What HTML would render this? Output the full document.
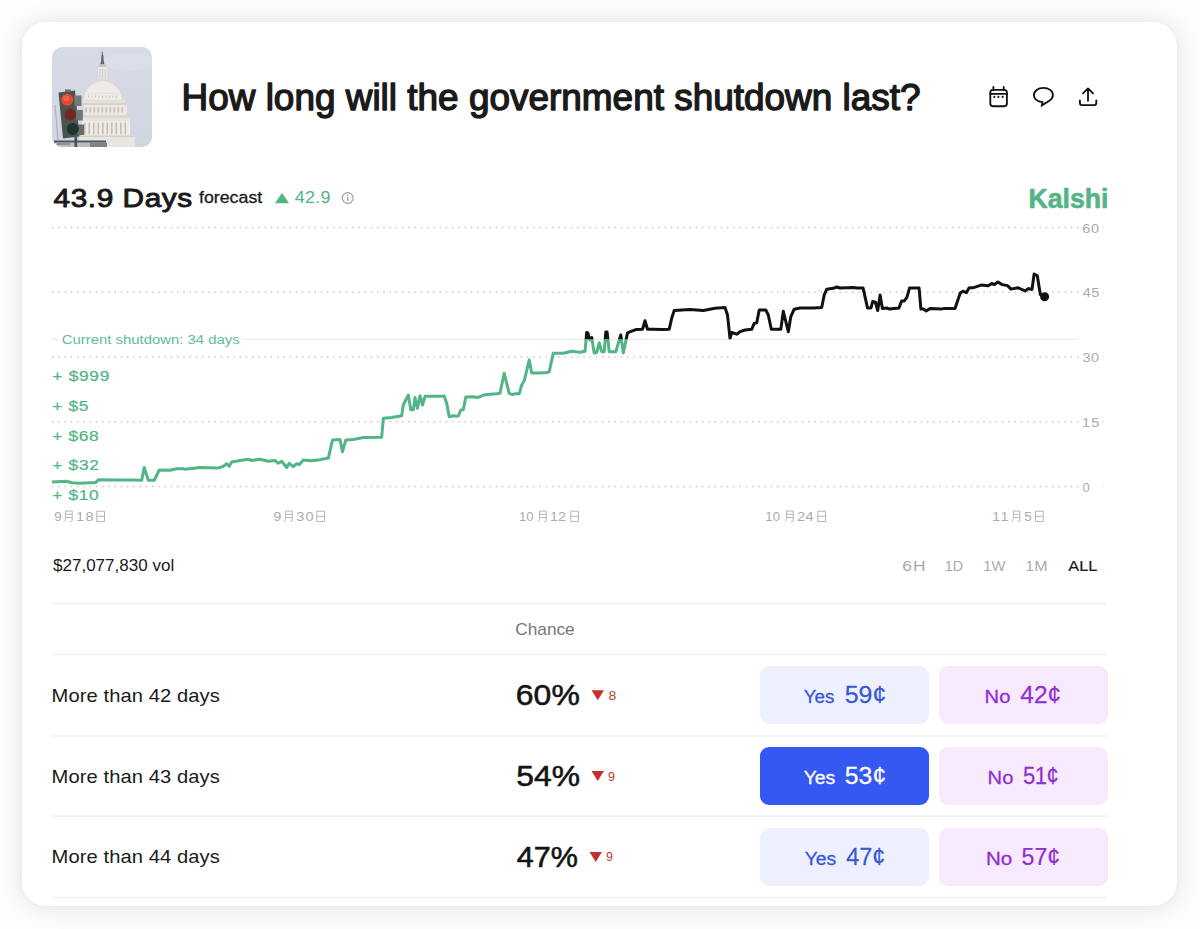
<!DOCTYPE html>
<html><head><meta charset="utf-8">
<style>
html,body{margin:0;padding:0;width:1200px;height:929px;overflow:hidden;background:#fdfdfd;font-family:"Liberation Sans",sans-serif;}
#card{position:absolute;left:22px;top:22px;width:1155px;height:884px;background:#fff;border-radius:24px;box-shadow:0 0 4px rgba(0,0,0,0.025),0 1px 24px rgba(0,0,0,0.116);}
#ov{position:absolute;left:0;top:0;}
.btn{position:absolute;border-radius:9px;}
</style></head><body>
<div id="card"></div>
<div class="btn" style="left:760px;top:666px;width:169px;height:58px;background:#eef1fd"></div>
<div class="btn" style="left:939px;top:666px;width:169px;height:58px;background:#f8eafd"></div>
<div class="btn" style="left:760px;top:747px;width:169px;height:58px;background:#3558f0"></div>
<div class="btn" style="left:939px;top:747px;width:169px;height:58px;background:#f8eafd"></div>
<div class="btn" style="left:760px;top:828px;width:169px;height:58px;background:#eef1fd"></div>
<div class="btn" style="left:939px;top:828px;width:169px;height:58px;background:#f8eafd"></div>
<svg id="ov" width="1200" height="929" viewBox="0 0 1200 929" font-family="Liberation Sans, sans-serif">
<defs>
<clipPath id="imgclip"><rect x="52" y="47" width="100" height="100" rx="10"/></clipPath>
<clipPath id="above"><rect x="0" y="0" width="1200" height="339.3"/></clipPath>
<clipPath id="below"><rect x="0" y="339.3" width="1200" height="300"/></clipPath>
<linearGradient id="sky" x1="0" y1="0" x2="0" y2="1"><stop offset="0" stop-color="#d8dbe5"/><stop offset="1" stop-color="#d0d5e1"/></linearGradient>
</defs>
<!-- IMAGE -->
<g clip-path="url(#imgclip)" id="img">
<rect x="52" y="47" width="100" height="100" fill="url(#sky)"/>
<ellipse cx="130" cy="62" rx="30" ry="8" fill="#dde0ea" opacity="0.7"/>
<!-- statue & lantern -->
<path d="M101.8 51.5h0.8l0.4 3.5 0.5 1 0.2 5 0.8 3.5h-4.2l0.8-3.5 0.2-5 0.5-1z" fill="#626772"/>
<rect x="98.8" y="64.5" width="7.6" height="3" fill="#c9c6c2"/>
<rect x="98.3" y="67" width="8.6" height="12" fill="#ece9e4"/>
<g stroke="#b9b5b0" stroke-width="0.6"><line x1="100" y1="69" x2="100" y2="78"/><line x1="102.6" y1="69" x2="102.6" y2="78"/><line x1="105.2" y1="69" x2="105.2" y2="78"/></g>
<rect x="96" y="78.5" width="13.2" height="2.5" fill="#ddd9d3"/>
<!-- dome -->
<path d="M84 100C84 90 91 82 102.6 81 114 82 121.5 90 122 100z" fill="#efece8"/>
<path d="M88 94 Q102.6 92 117.5 94" stroke="#dcd8d2" stroke-width="0.6" fill="none"/>
<g fill="#c9c5be"><rect x="88" y="95.5" width="1" height="2"/><rect x="91.5" y="95.5" width="1" height="2"/><rect x="95" y="95.5" width="1" height="2"/><rect x="98.5" y="95.5" width="1" height="2"/><rect x="102" y="95.5" width="1" height="2"/><rect x="105.5" y="95.5" width="1" height="2"/><rect x="109" y="95.5" width="1" height="2"/><rect x="112.5" y="95.5" width="1" height="2"/><rect x="116" y="95.5" width="1" height="2"/></g>
<rect x="82.5" y="99.5" width="42.5" height="4" fill="#e4e0da"/>
<rect x="83" y="103.3" width="42.5" height="2" fill="#d6d2cb"/>
<rect x="84" y="105" width="43" height="10" fill="#ebe8e3"/>
<g fill="#bdb8b0"><rect x="85.5" y="107.5" width="1.3" height="5"/><rect x="89.5" y="107.5" width="1.3" height="5"/><rect x="93.5" y="107.5" width="1.3" height="5"/><rect x="97.5" y="107.5" width="1.3" height="5"/><rect x="101.5" y="107.5" width="1.3" height="5"/><rect x="105.5" y="107.5" width="1.3" height="5"/><rect x="109.5" y="107.5" width="1.3" height="5"/><rect x="113.5" y="107.5" width="1.3" height="5"/><rect x="117.5" y="107.5" width="1.3" height="5"/><rect x="121.5" y="107.5" width="1.3" height="5"/></g>
<rect x="82" y="115" width="47" height="3" fill="#dcd8d1"/>
<rect x="81.5" y="118" width="48.5" height="3" fill="#e8e5e0"/>
<rect x="82" y="121" width="48" height="15" fill="#efece7"/>
<g fill="#c3beb6"><rect x="84" y="122.5" width="1.6" height="12"/><rect x="88.5" y="122.5" width="1.6" height="12"/><rect x="93" y="122.5" width="1.6" height="12"/><rect x="97.5" y="122.5" width="1.6" height="12"/><rect x="102" y="122.5" width="1.6" height="12"/><rect x="106.5" y="122.5" width="1.6" height="12"/><rect x="111" y="122.5" width="1.6" height="12"/><rect x="115.5" y="122.5" width="1.6" height="12"/><rect x="120" y="122.5" width="1.6" height="12"/><rect x="124.5" y="122.5" width="1.6" height="12"/></g>
<rect x="79" y="135.5" width="56" height="11.5" fill="#e9e6e1"/>
<rect x="79" y="135.5" width="56" height="1.5" fill="#d3cfc8"/>
<!-- wires -->
<path d="M55 105 L58 140" stroke="#7a8088" stroke-width="0.5" fill="none"/>
<!-- traffic light -->
<path d="M58.5 92.5L75 90.5 79.5 136.5 63 138.5z" fill="#4c5351"/>
<rect x="65" y="89.5" width="6" height="2.5" fill="#6a706e"/>
<path d="M74 95.5h7.5v10.5h-6.8z" fill="#737978"/>
<path d="M75.6 110h7.2v10.5h-6.5z" fill="#707675"/>
<path d="M77 124.5h7v10.5h-6.3z" fill="#676d6c"/>
<circle cx="67.2" cy="99.8" r="6" fill="#e8492c"/>
<circle cx="66.3" cy="98.5" r="3" fill="#f2684a" opacity="0.8"/>
<circle cx="70.2" cy="114.4" r="5.8" fill="#6e2a20"/>
<circle cx="72.8" cy="129" r="6" fill="#1e3530"/>
<!-- bottom structure -->
<rect x="54" y="140.5" width="52" height="2.2" fill="#4f565c"/>
<rect x="56" y="142.7" width="50" height="4.3" fill="#b9bdc4"/>
<rect x="57" y="143" width="13" height="2" fill="#8c9298"/>
<rect x="74.5" y="137" width="2.6" height="10" fill="#474d50"/>
<rect x="90" y="142.5" width="17" height="4.5" fill="#7d838a"/>
</g>
<!-- ICONS -->
<g fill="none" stroke="#111" stroke-width="1.85" stroke-linecap="round" stroke-linejoin="round">
<rect x="990.3" y="89.9" width="16.6" height="16.3" rx="2.6"/>
<line x1="990.3" y1="93.9" x2="1006.9" y2="93.9"/>
<line x1="993.4" y1="86.9" x2="993.4" y2="89.9"/>
<line x1="1003.7" y1="86.9" x2="1003.7" y2="89.9"/>
<path d="M1042.4 102.1C1037.2 101.7 1033.9 98.9 1033.9 95.1 1033.9 90.8 1038.1 87.9 1043.4 87.9 1048.8 87.9 1052.9 90.8 1052.9 95 1052.9 97.6 1051.4 99.4 1049.4 100.7L1041.9 105.3Z" stroke-linejoin="miter"/>
<path d="M1088 100.7V88.6M1083 93.4l5-5 5 5M1079.9 100.5v2.6q0 2 2 2h12.4q2 0 2-2v-2.6"/>
</g>
<g fill="#111"><ellipse cx="994.3" cy="96.9" rx="1.05" ry="1.15"/><ellipse cx="998.4" cy="96.9" rx="1.05" ry="1.15"/><ellipse cx="1002.6" cy="96.9" rx="1.05" ry="1.15"/></g>
<!-- FORECAST ROW extras -->
<path d="M275 203.3 L282 192.7 L289 203.3Z" fill="#52b586"/>
<circle cx="347.7" cy="198" r="5.4" fill="none" stroke="#9a9a9a" stroke-width="1.1"/>
<rect x="347" y="197" width="1.3" height="4" fill="#9a9a9a"/><circle cx="347.65" cy="195.2" r="0.8" fill="#9a9a9a"/>
<!-- GRID -->
<g stroke="#c6c6c6" stroke-width="1.45" stroke-dasharray="1.45 4.8" fill="none">
<line x1="52" y1="227.5" x2="1107" y2="227.5"/>
<line x1="52" y1="292.2" x2="1107" y2="292.2"/>
<line x1="52" y1="357" x2="1107" y2="357"/>
<line x1="52" y1="421.7" x2="1107" y2="421.7"/>
<line x1="52" y1="486.5" x2="1107" y2="486.5"/>
</g>
<g fill="#fff"><rect x="1079" y="220" width="24" height="15"/><rect x="1079" y="285" width="24" height="15"/><rect x="1079" y="350" width="24" height="15"/><rect x="1079" y="414" width="24" height="15"/><rect x="1079" y="479" width="24" height="15"/></g>
<line x1="52" y1="339.3" x2="1078" y2="339.3" stroke="#dfe6e3" stroke-width="1"/>
<rect x="57.8" y="331" width="184" height="16" fill="#fff"/>
<!-- LINE -->
<path d="M52 482 L66.7 481.3 L71.7 482.8 L80 483.3 L95.8 482.5 L98.3 479.7 L116.7 480 L133.3 480 L141.7 480.3 L144.2 467.5 L148.3 480.3 L154.2 480.3 L159.2 470 L170 470.3 L176.7 468.7 L183.3 468.7 L185 469.3 L200 467.5 L218.3 468 L223.3 466.3 L226.7 463.7 L229.2 466.3 L231.7 462 L241.7 460.3 L248.3 459.2 L251.7 460.5 L260 459.2 L268.3 461.3 L275 460.5 L278.3 463.3 L281.7 461.3 L286.7 467.5 L289.2 463.3 L293.3 466.7 L296.7 463.7 L299.2 464.7 L303.3 460 L311.7 460.8 L320 459.7 L326.7 458.3 L328.3 458.3 L332.5 440 L340 439.5 L342.5 451.7 L345.8 440 L353.3 439.5 L363.3 437.5 L381.7 437.2 L383.3 418.3 L391.7 417.5 L401.7 415.8 L403.3 405 L408.3 395 L410.8 409.7 L413.3 409.7 L415 397.5 L417.5 408.3 L420 395.8 L422.5 405 L425 396.3 L441.7 396.3 L444.2 396 L446.7 403.3 L449.2 416.7 L453.3 415.8 L456.7 416.3 L458.3 415.8 L460.8 410 L463.3 409.7 L465.8 397 L473.3 396.7 L476.7 397.5 L480 396.7 L485 394.7 L496.7 393.7 L500 393.3 L504.2 373.3 L509.2 393.3 L512.5 394.7 L515 393.7 L519.2 393.8 L521.7 385 L524.2 380.8 L529.2 360 L531.7 373 L540 373 L546.7 372.5 L549.2 371.7 L553.3 353.3 L563.3 353.3 L566.7 352.5 L571.7 351.3 L580 352.3 L585 351.25 L586.7 332.5 L587.9 332.9 L589.6 340 L591.7 337.5 L594.2 352.9 L596.7 352.5 L599.2 342.9 L601.7 351.7 L604.2 351.7 L605.8 332.1 L607.1 332.1 L609.2 351.7 L615.8 351.7 L620.8 335 L623.3 352.9 L627.5 332.9 L629.2 332.1 L635.8 329.6 L642.5 329.2 L645 320.8 L647.5 329.2 L653.3 329.2 L661.7 329.6 L669.2 329.2 L671.7 318.3 L674.2 310.5 L690 309.5 L703.3 310.5 L715 308.3 L725 307.5 L727.5 315 L730 338.3 L731.7 332.5 L736.7 334.2 L740 331.7 L745 330 L751.7 329.3 L754.2 323.3 L756.7 323 L759.2 310 L765.8 310 L768.3 315 L771.3 329.2 L780.8 329.2 L783.3 311.3 L788.3 331.7 L790.8 316.7 L794.2 309.2 L800 308 L813.3 308 L821.7 307.5 L824.2 295 L826.7 289.2 L833.3 288.3 L836.7 287 L840 288 L853.3 287.5 L857 288.1 L863.1 288.1 L867.5 307.9 L871 307.9 L872.75 301.4 L875.4 302.1 L877.7 310.5 L880.1 295.1 L882.4 308.4 L886.75 307.9 L889.4 309.1 L899 307.9 L901.6 300.9 L904.25 300.9 L906.9 297.4 L909.5 288.1 L919.1 288.1 L920.9 309.1 L923.5 309.1 L926.1 310.9 L930.5 308.4 L941 309.1 L944.5 308.4 L955 308.4 L960.25 293 L962.9 291.25 L966.4 292.65 L969 288.1 L974.25 287.4 L981.25 285.1 L988.25 285.65 L991.75 283.4 L994.4 284.6 L997.9 282 L1002.25 284.6 L1007.5 285.65 L1011 289.15 L1018 287.75 L1025 290.9 L1028.5 288.6 L1032 289.5 L1034.1 274.1 L1037.25 275.5 L1040.4 294.75 L1044.6 296.85" fill="none" stroke="#52b586" stroke-width="3" stroke-linejoin="round" clip-path="url(#below)"/>
<path d="M52 482 L66.7 481.3 L71.7 482.8 L80 483.3 L95.8 482.5 L98.3 479.7 L116.7 480 L133.3 480 L141.7 480.3 L144.2 467.5 L148.3 480.3 L154.2 480.3 L159.2 470 L170 470.3 L176.7 468.7 L183.3 468.7 L185 469.3 L200 467.5 L218.3 468 L223.3 466.3 L226.7 463.7 L229.2 466.3 L231.7 462 L241.7 460.3 L248.3 459.2 L251.7 460.5 L260 459.2 L268.3 461.3 L275 460.5 L278.3 463.3 L281.7 461.3 L286.7 467.5 L289.2 463.3 L293.3 466.7 L296.7 463.7 L299.2 464.7 L303.3 460 L311.7 460.8 L320 459.7 L326.7 458.3 L328.3 458.3 L332.5 440 L340 439.5 L342.5 451.7 L345.8 440 L353.3 439.5 L363.3 437.5 L381.7 437.2 L383.3 418.3 L391.7 417.5 L401.7 415.8 L403.3 405 L408.3 395 L410.8 409.7 L413.3 409.7 L415 397.5 L417.5 408.3 L420 395.8 L422.5 405 L425 396.3 L441.7 396.3 L444.2 396 L446.7 403.3 L449.2 416.7 L453.3 415.8 L456.7 416.3 L458.3 415.8 L460.8 410 L463.3 409.7 L465.8 397 L473.3 396.7 L476.7 397.5 L480 396.7 L485 394.7 L496.7 393.7 L500 393.3 L504.2 373.3 L509.2 393.3 L512.5 394.7 L515 393.7 L519.2 393.8 L521.7 385 L524.2 380.8 L529.2 360 L531.7 373 L540 373 L546.7 372.5 L549.2 371.7 L553.3 353.3 L563.3 353.3 L566.7 352.5 L571.7 351.3 L580 352.3 L585 351.25 L586.7 332.5 L587.9 332.9 L589.6 340 L591.7 337.5 L594.2 352.9 L596.7 352.5 L599.2 342.9 L601.7 351.7 L604.2 351.7 L605.8 332.1 L607.1 332.1 L609.2 351.7 L615.8 351.7 L620.8 335 L623.3 352.9 L627.5 332.9 L629.2 332.1 L635.8 329.6 L642.5 329.2 L645 320.8 L647.5 329.2 L653.3 329.2 L661.7 329.6 L669.2 329.2 L671.7 318.3 L674.2 310.5 L690 309.5 L703.3 310.5 L715 308.3 L725 307.5 L727.5 315 L730 338.3 L731.7 332.5 L736.7 334.2 L740 331.7 L745 330 L751.7 329.3 L754.2 323.3 L756.7 323 L759.2 310 L765.8 310 L768.3 315 L771.3 329.2 L780.8 329.2 L783.3 311.3 L788.3 331.7 L790.8 316.7 L794.2 309.2 L800 308 L813.3 308 L821.7 307.5 L824.2 295 L826.7 289.2 L833.3 288.3 L836.7 287 L840 288 L853.3 287.5 L857 288.1 L863.1 288.1 L867.5 307.9 L871 307.9 L872.75 301.4 L875.4 302.1 L877.7 310.5 L880.1 295.1 L882.4 308.4 L886.75 307.9 L889.4 309.1 L899 307.9 L901.6 300.9 L904.25 300.9 L906.9 297.4 L909.5 288.1 L919.1 288.1 L920.9 309.1 L923.5 309.1 L926.1 310.9 L930.5 308.4 L941 309.1 L944.5 308.4 L955 308.4 L960.25 293 L962.9 291.25 L966.4 292.65 L969 288.1 L974.25 287.4 L981.25 285.1 L988.25 285.65 L991.75 283.4 L994.4 284.6 L997.9 282 L1002.25 284.6 L1007.5 285.65 L1011 289.15 L1018 287.75 L1025 290.9 L1028.5 288.6 L1032 289.5 L1034.1 274.1 L1037.25 275.5 L1040.4 294.75 L1044.6 296.85" fill="none" stroke="#0f1411" stroke-width="3" stroke-linejoin="round" clip-path="url(#above)"/>
<circle cx="1044.6" cy="296.8" r="4.5" fill="#111"/>
<!-- X AXIS -->
<g font-size="13" fill="#ababab">
<path d="M65.6 511.0V516.9C65.6 519.0 65.1 520.4 64.1 521.6M65.6 511.0H72.2V520.6C72.2 521.1999999999999 71.9 521.4 71.3 521.4H70.2M65.6 514.3H72.2M65.6 517.5H72.2" fill="none" stroke="#b4b4b4" stroke-width="1.0"/>
<path d="M96.8 511.2H104.5V521.6H96.8ZM96.8 516.3H104.5" fill="none" stroke="#b4b4b4" stroke-width="1.0"/>
<path d="M285.6 511.0V516.9C285.6 519.0 285.1 520.4 284.1 521.6M285.6 511.0H292.2V520.6C292.2 521.1999999999999 291.9 521.4 291.3 521.4H290.2M285.6 514.3H292.2M285.6 517.5H292.2" fill="none" stroke="#b4b4b4" stroke-width="1.0"/>
<path d="M316.8 511.2H324.5V521.6H316.8ZM316.8 516.3H324.5" fill="none" stroke="#b4b4b4" stroke-width="1.0"/>
<path d="M539.6 511.0V516.9C539.6 519.0 539.1 520.4 538.1 521.6M539.6 511.0H546.2V520.6C546.2 521.1999999999999 545.9 521.4 545.3 521.4H544.2M539.6 514.3H546.2M539.6 517.5H546.2" fill="none" stroke="#b4b4b4" stroke-width="1.0"/>
<path d="M570.8 511.2H578.5V521.6H570.8ZM570.8 516.3H578.5" fill="none" stroke="#b4b4b4" stroke-width="1.0"/>
<path d="M786.6 511.0V516.9C786.6 519.0 786.1 520.4 785.1 521.6M786.6 511.0H793.2V520.6C793.2 521.1999999999999 792.9 521.4 792.3 521.4H791.2M786.6 514.3H793.2M786.6 517.5H793.2" fill="none" stroke="#b4b4b4" stroke-width="1.0"/>
<path d="M817.8 511.2H825.5V521.6H817.8ZM817.8 516.3H825.5" fill="none" stroke="#b4b4b4" stroke-width="1.0"/>
<path d="M1013.3000000000001 511.0V516.9C1013.3000000000001 519.0 1012.8000000000001 520.4 1011.8000000000001 521.6M1013.3000000000001 511.0H1019.9000000000001V520.6C1019.9000000000001 521.1999999999999 1019.6 521.4 1019.0 521.4H1017.9000000000001M1013.3000000000001 514.3H1019.9000000000001M1013.3000000000001 517.5H1019.9000000000001" fill="none" stroke="#b4b4b4" stroke-width="1.0"/>
<path d="M1035.5 511.2H1043.2V521.6H1035.5ZM1035.5 516.3H1043.2" fill="none" stroke="#b4b4b4" stroke-width="1.0"/>
</g>
<!-- TABLE -->
<g stroke="#ececec" stroke-width="1.2">
<line x1="52" y1="603.7" x2="1107" y2="603.7"/>
<line x1="52" y1="654.5" x2="1107" y2="654.5"/>
<line x1="52" y1="736" x2="1107" y2="736"/>
<line x1="52" y1="816.2" x2="1107" y2="816.2"/>
<line x1="52" y1="897.5" x2="1107" y2="897.5"/>
</g>
<g fill="#c4302b">
<path d="M591.6 690.3h12.3l-6.15 10z"/>
<path d="M591.6 771.1h12.3l-6.15 10z"/>
<path d="M589.6 851.9h12.3l-6.15 10z"/>
</g>
<text id="title" transform="translate(181.50 110.3) scale(0.9983 1)" font-size="37" fill="#1a1a1a" stroke="#1a1a1a" stroke-width="1.4" stroke-linejoin="round" letter-spacing="0.006">How long will the government shutdown last?</text>
<text id="days" transform="translate(53.50 206.5) scale(1.1200 1)" font-size="26.6" fill="#1a1a1a" stroke="#1a1a1a" stroke-width="0.95" stroke-linejoin="round" letter-spacing="0.513">43.9 Days</text>
<text id="forecast" transform="translate(199.00 203) scale(1.0792 1)" font-size="16.5" fill="#1a1a1a" stroke="#1a1a1a" stroke-width="0.3" stroke-linejoin="round" letter-spacing="-0.013">forecast</text>
<text id="fc" transform="translate(294.75 203.3) scale(1.1200 1)" font-size="16" fill="#52b586" letter-spacing="0.268">42.9</text>
<text id="kalshi" transform="translate(1028.50 207.5) scale(0.9872 1)" font-size="27" font-weight="700" fill="#52b586" stroke="#52b586" stroke-width="0.6" stroke-linejoin="round">Kalshi</text>
<text id="yl0" transform="translate(1082.25 232.5) scale(1.1200 1)" font-size="13" fill="#ababab" letter-spacing="0.670">60</text>
<text id="yl1" transform="translate(1082.75 297.2) scale(1.1200 1)" font-size="13" fill="#ababab" letter-spacing="0.446">45</text>
<text id="yl2" transform="translate(1082.50 362) scale(1.1200 1)" font-size="13" fill="#ababab" letter-spacing="0.446">30</text>
<text id="yl3" transform="translate(1082.00 426.7) scale(1.1200 1)" font-size="13" fill="#ababab" letter-spacing="1.116">15</text>
<text id="yl4" x="1082.50" y="491.5" font-size="13" fill="#ababab">0</text>
<text id="cur" transform="translate(61.75 343.9) scale(1.1041 1)" font-size="13.5" fill="#62bd92" letter-spacing="-0.004">Current shutdown: 34 days</text>
<text id="pl0" transform="translate(52.25 381) scale(1.1200 1)" font-size="15.5" fill="#52b586" stroke="#52b586" stroke-width="0.25" stroke-linejoin="round" letter-spacing="0.643">+ $999</text>
<text id="pl1" transform="translate(52.25 410.8) scale(1.1200 1)" font-size="15.5" fill="#52b586" stroke="#52b586" stroke-width="0.25" stroke-linejoin="round" letter-spacing="0.551">+ $5</text>
<text id="pl2" transform="translate(52.25 440.6) scale(1.1200 1)" font-size="15.5" fill="#52b586" stroke="#52b586" stroke-width="0.25" stroke-linejoin="round" letter-spacing="0.580">+ $68</text>
<text id="pl3" transform="translate(52.25 470.4) scale(1.1200 1)" font-size="15.5" fill="#52b586" stroke="#52b586" stroke-width="0.25" stroke-linejoin="round" letter-spacing="0.636">+ $32</text>
<text id="pl4" transform="translate(52.25 500.2) scale(1.1200 1)" font-size="15.5" fill="#52b586" stroke="#52b586" stroke-width="0.25" stroke-linejoin="round" letter-spacing="0.580">+ $10</text>
<text id="vol" transform="translate(53.00 571.4) scale(1.0661 1)" font-size="16" fill="#1a1a1a" letter-spacing="-0.003">$27,077,830 vol</text>
<text id="r6H" transform="translate(902.25 571) scale(1.1200 1)" font-size="15.5" fill="#ababab" letter-spacing="0.893">6H</text>
<text id="r1D" transform="translate(944.75 571) scale(0.9269 1)" font-size="15.5" fill="#ababab" letter-spacing="-0.054">1D</text>
<text id="r1W" transform="translate(983.25 571) scale(0.9545 1)" font-size="15.5" fill="#ababab">1W</text>
<text id="r1M" transform="translate(1025.25 571) scale(1.0343 1)" font-size="15.5" fill="#ababab" letter-spacing="0.145">1M</text>
<text id="rALL" transform="translate(1068.25 571) scale(1.0569 1)" font-size="15.5" fill="#1a1a1a" stroke="#1a1a1a" stroke-width="0.2" stroke-linejoin="round" letter-spacing="0.024">ALL</text>
<text id="chance" transform="translate(515.25 634.9) scale(1.0791 1)" font-size="16" fill="#777">Chance</text>
<text id="row0" transform="translate(51.50 701.7) scale(1.1200 1)" font-size="18" fill="#1a1a1a" letter-spacing="0.075">More than 42 days</text>
<text id="row1" transform="translate(51.50 782.5) scale(1.1200 1)" font-size="18" fill="#1a1a1a" letter-spacing="0.075">More than 43 days</text>
<text id="row2" transform="translate(51.50 863.3) scale(1.1200 1)" font-size="18" fill="#1a1a1a" letter-spacing="0.075">More than 44 days</text>
<text id="pct0" transform="translate(515.70 705.0) scale(1.0821 1)" font-size="29.5" fill="#141414" stroke="#141414" stroke-width="0.55" stroke-linejoin="round" letter-spacing="0.092">60%</text>
<text id="pct1" transform="translate(516.20 785.9) scale(1.0791 1)" font-size="29.5" fill="#141414" stroke="#141414" stroke-width="0.55" stroke-linejoin="round" letter-spacing="0.023">54%</text>
<text id="pct2" transform="translate(516.70 866.7) scale(1.0353 1)" font-size="29.5" fill="#141414" stroke="#141414" stroke-width="0.55" stroke-linejoin="round" letter-spacing="0.024">47%</text>
<text id="yes0" transform="translate(803.75 703.4) scale(0.9901 1)" font-size="19" fill="#3a57d6" stroke="#3a57d6" stroke-width="0.3" stroke-linejoin="round" letter-spacing="-0.025">Yes</text>
<text id="yp0" transform="translate(844.75 703.4) scale(1.0382 1)" font-size="24" fill="#3a57d6" stroke="#3a57d6" stroke-width="0.25" stroke-linejoin="round" letter-spacing="-0.024">59¢</text>
<text id="no0" transform="translate(984.50 703.4) scale(1.0601 1)" font-size="19" fill="#9030cf" stroke="#9030cf" stroke-width="0.3" stroke-linejoin="round" letter-spacing="0.094">No</text>
<text id="np0" transform="translate(1020.25 703.4) scale(1.0222 1)" font-size="24" fill="#9030cf" stroke="#9030cf" stroke-width="0.25" stroke-linejoin="round" letter-spacing="0.049">42¢</text>
<text id="yes1" transform="translate(803.75 784.2) scale(1.0215 1)" font-size="19" fill="#fff" stroke="#fff" stroke-width="0.3" stroke-linejoin="round" letter-spacing="-0.049">Yes</text>
<text id="yp1" transform="translate(844.75 784.2) scale(1.0316 1)" font-size="24" fill="#fff" stroke="#fff" stroke-width="0.25" stroke-linejoin="round" letter-spacing="0.097">53¢</text>
<text id="no1" transform="translate(987.50 784.2) scale(1.0601 1)" font-size="19" fill="#9030cf" stroke="#9030cf" stroke-width="0.3" stroke-linejoin="round" letter-spacing="0.094">No</text>
<text id="np1" transform="translate(1023.00 784.2) scale(0.9200 1)" font-size="24" fill="#9030cf" stroke="#9030cf" stroke-width="0.25" stroke-linejoin="round" letter-spacing="-0.571">51¢</text>
<text id="yes2" transform="translate(804.75 865.0) scale(1.0215 1)" font-size="19" fill="#3a57d6" stroke="#3a57d6" stroke-width="0.3" stroke-linejoin="round" letter-spacing="-0.049">Yes</text>
<text id="yp2" transform="translate(846.25 865.0) scale(0.9753 1)" font-size="24" fill="#3a57d6" stroke="#3a57d6" stroke-width="0.25" stroke-linejoin="round" letter-spacing="0.026">47¢</text>
<text id="no2" transform="translate(986.00 865.0) scale(1.0802 1)" font-size="19" fill="#9030cf" stroke="#9030cf" stroke-width="0.3" stroke-linejoin="round" letter-spacing="0.046">No</text>
<text id="np2" transform="translate(1021.50 865.0) scale(0.9632 1)" font-size="24" fill="#9030cf" stroke="#9030cf" stroke-width="0.25" stroke-linejoin="round" letter-spacing="0.052">57¢</text>
<text id="d0" transform="translate(608.50 699.7) scale(1.1200 1)" font-size="12.5" fill="#c0392b">8</text>
<text id="d1" x="608.00" y="780.5" font-size="12.5" fill="#c0392b">9</text>
<text id="d2" x="606.00" y="861.3" font-size="12.5" fill="#c0392b">9</text>
<text id="xa0" transform="translate(54.20 520.8) scale(1.0258 1)" font-size="13" fill="#ababab">9</text>
<text id="xb0" transform="translate(76.05 520.8) scale(1.1200 1)" font-size="13" fill="#ababab" letter-spacing="1.205">18</text>
<text id="xa1" transform="translate(273.55 520.8) scale(1.0755 1)" font-size="13" fill="#ababab">9</text>
<text id="xb1" transform="translate(296.20 520.8) scale(1.1200 1)" font-size="13" fill="#ababab" letter-spacing="1.027">30</text>
<text id="xa2" x="519.00" y="520.8" font-size="13" fill="#ababab">10</text>
<text id="xb2" transform="translate(550.05 520.8) scale(1.0980 1)" font-size="13" fill="#ababab">12</text>
<text id="xa3" transform="translate(765.30 520.8) scale(1.0077 1)" font-size="13" fill="#ababab" letter-spacing="0.099">10</text>
<text id="xb3" transform="translate(796.95 520.8) scale(1.1200 1)" font-size="13" fill="#ababab" letter-spacing="0.357">24</text>
<text id="xa4" transform="translate(992.00 520.8) scale(1.1200 1)" font-size="13" fill="#ababab" letter-spacing="1.339">11</text>
<text id="xb4" transform="translate(1024.20 520.8) scale(1.0242 1)" font-size="13" fill="#ababab">5</text>
</svg>
</body></html>
